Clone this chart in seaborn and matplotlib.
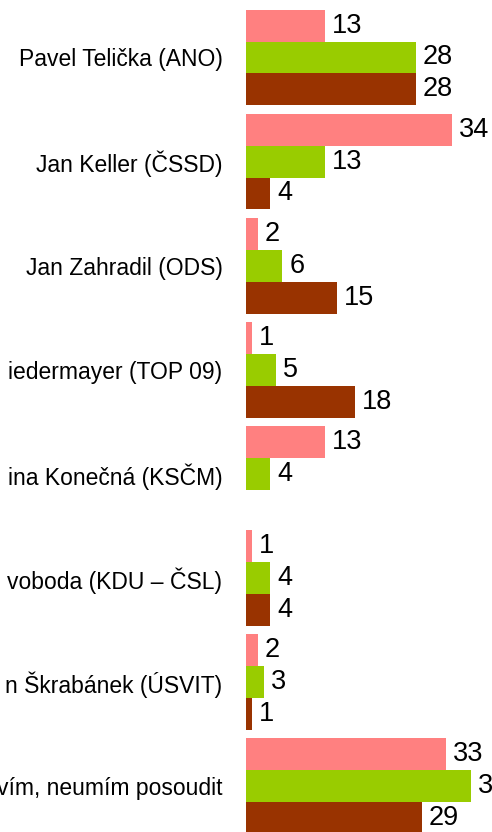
import matplotlib
matplotlib.use("Agg")
import matplotlib.pyplot as plt
from matplotlib import font_manager
import pandas as pd
import seaborn as sns

# data (labels are cut at the left edge in the original)
candidates = ["Pavel Telička (ANO)", "Jan Keller (ČSSD)", "Jan Zahradil (ODS)",
              "iedermayer (TOP 09)", "ina Konečná (KSČM)", "voboda (KDU – ČSL)",
              "n Škrabánek (ÚSVIT)", "vím, neumím posoudit"]
series = ["A", "B", "C"]
vals_a = [13, 34, 2, 1, 13, 1, 2, 33]
vals_b = [28, 13, 6, 5, 4, 4, 3, 37]
vals_c = [28, 4, 15, 18, None, 4, 1, 29]
colors = ["#FF8080", "#99CC00", "#993300"]

sns.set_theme(style="white")
installed = {f.name for f in font_manager.fontManager.ttflist}
fam = [f for f in ["Liberation Sans Narrow", "Liberation Sans", "DejaVu Sans"] if f in installed]
plt.rcParams['font.family'] = fam

df = pd.DataFrame({
    "cand": candidates * 3,
    "series": [s for s in series for _ in candidates],
    "val": vals_a + vals_b + vals_c,
})

fig = plt.figure(figsize=(4.92, 8.32), dpi=100)
ax = fig.add_axes([246 / 492, 0, 246 / 492, 1])
sns.barplot(data=df, y="cand", x="val", hue="series", palette=colors,
            orient="h", width=0.92, saturation=1, linewidth=0, ax=ax, legend=False)

ax.set_xlim(0, 246 / 6.07)
ax.set_ylim(7.44, -0.552)
for s in ax.spines.values():
    s.set_visible(False)
ax.set_xticks([])
ax.set_xlabel("")
ax.set_ylabel("")
ax.tick_params(axis="y", length=0, pad=17, labelsize=16.5, labelcolor="black")

for cont in ax.containers:
    labels = ["" if (v != v) else f"{int(v)}" for v in cont.datavalues]
    ax.bar_label(cont, labels=labels, padding=5, fontsize=19.5, color="black",
                 clip_on=False)

fig.savefig("out.png", dpi=100)
